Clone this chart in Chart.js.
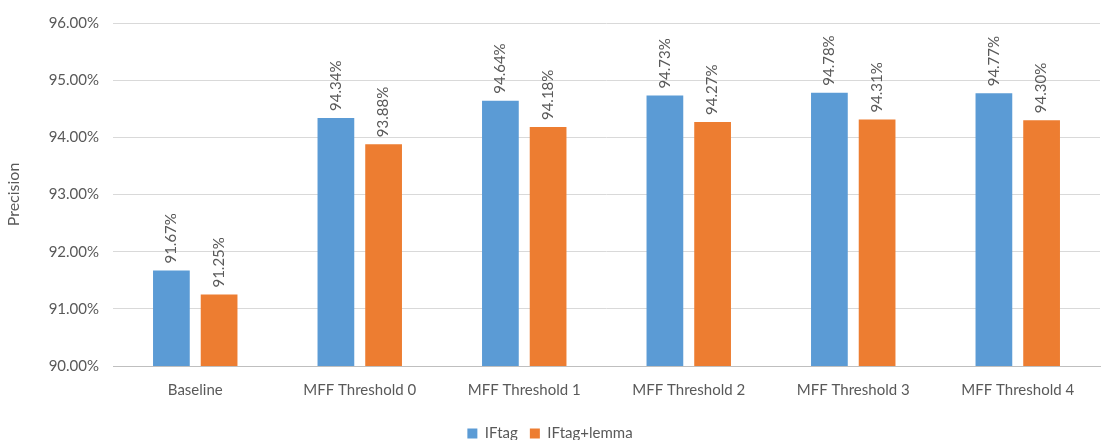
<!DOCTYPE html>
<html>
<head>
<meta charset="utf-8">
<script src="https://cdn.jsdelivr.net/npm/chart.js@4"></script>
<style>
  html, body { margin: 0; padding: 0; background: #fff; }
  #wrap { width: 1110px; height: 440px; }
</style>
</head>
<body>
<div id="wrap"><canvas id="precisionChart"></canvas></div>
<script>
let categories = ['Baseline', 'MFF Threshold 0', 'MFF Threshold 1', 'MFF Threshold 2', 'MFF Threshold 3', 'MFF Threshold 4'];
let iftag = [91.67, 94.34, 94.64, 94.73, 94.78, 94.77];
let iftagLemma = [91.25, 93.88, 94.18, 94.27, 94.31, 94.30];

let fontFamily = 'Lato, "Open Sans", sans-serif';
let textColor = '#595959';

// labels rotated above each bar
let barLabels = {
  id: 'barLabels',
  afterDatasetsDraw(chart) {
    let ctx = chart.ctx;
    ctx.save();
    ctx.font = '15px ' + fontFamily;
    ctx.fillStyle = textColor;
    ctx.textAlign = 'left';
    ctx.textBaseline = 'middle';
    chart.data.datasets.forEach((ds, i) => {
      chart.getDatasetMeta(i).data.forEach((bar, j) => {
        ctx.save();
        ctx.translate(bar.x, bar.y - 7);
        ctx.rotate(-Math.PI / 2);
        ctx.fillText(ds.data[j].toFixed(2) + '%', 0, 0);
        ctx.restore();
      });
    });
    ctx.restore();
  }
};

let ctx = document.getElementById('precisionChart').getContext('2d');
let myChart = new Chart(ctx, {
  type: 'bar',
  data: {
    labels: categories,
    datasets: [{
      label: 'IFtag',
      data: iftag,
      backgroundColor: '#5B9BD5',
      categoryPercentage: 0.58,
      barPercentage: 0.77
    }, {
      label: 'IFtag+lemma',
      data: iftagLemma,
      backgroundColor: '#ED7D31',
      categoryPercentage: 0.58,
      barPercentage: 0.77
    }]
  },
  options: {
    responsive: true,
    maintainAspectRatio: false,
    animation: false,
    layout: { padding: { left: 0, right: 10, top: 14, bottom: -11 } },
    plugins: {
      legend: {
        position: 'bottom',
        labels: {
          font: { family: fontFamily, size: 15 },
          color: textColor,
          boxWidth: 10,
          boxHeight: 10,
          padding: 12
        }
      },
      tooltip: { enabled: false }
    },
    scales: {
      x: {
        grid: { display: false },
        border: { display: true, color: '#bfbfbf', width: 1 },
        ticks: { font: { family: fontFamily, size: 15 }, color: textColor, padding: 7 },
        afterFit(scale) { scale.height = 48; }
      },
      y: {
        min: 90,
        max: 96,
        ticks: {
          stepSize: 1,
          font: { family: fontFamily, size: 15 },
          color: textColor,
          padding: 14,
          callback: v => v.toFixed(2) + '%'
        },
        grid: { color: '#d9d9d9', lineWidth: 1, drawTicks: false },
        border: { display: false },
        title: {
          display: true,
          text: 'Precision',
          font: { family: fontFamily, size: 16 },
          color: textColor
        },
        afterFit(scale) { scale.width = 113; }
      }
    }
  },
  plugins: [barLabels]
});
</script>
</body>
</html>
